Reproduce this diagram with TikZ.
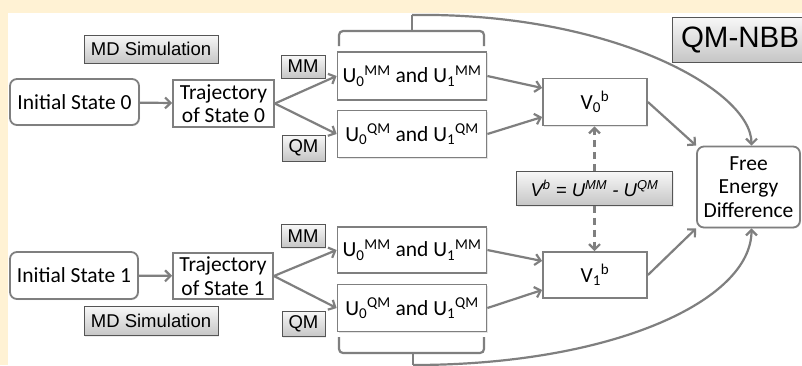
\documentclass[tikz,border=0pt]{standalone}
\usepackage{fontspec}
\setmainfont{Carlito}
\newfontfamily\labelfont{Liberation Sans}
\usetikzlibrary{arrows.meta,shadows}

\definecolor{cream}{HTML}{FFF2D4}
\definecolor{linegray}{HTML}{7F7F7F}
\definecolor{edgegray}{HTML}{555555}

\begin{document}
\begin{tikzpicture}[x=1pt, y=-1pt,
    box/.style={draw=linegray, line width=1.8pt, fill=white, inner sep=0pt, align=center,
        font=\fontsize{21.5}{23.5}\selectfont,
        drop shadow={opacity=0.2, shadow xshift=1pt, shadow yshift=-1pt}},
    roundbox/.style={box, rounded corners=7pt},
    tag/.style={draw=edgegray, line width=0.9pt, top color=gray!6, bottom color=gray!45,
        inner sep=0pt, font=\labelfont\fontsize{18.5}{21}\selectfont,
        drop shadow={opacity=0.15, shadow xshift=1pt, shadow yshift=-1pt}},
    link/.style={draw=linegray, line width=2.2pt, -{Straight Barb[length=5.5pt,width=11pt]}},
    brace/.style={draw=linegray, line width=2.2pt, rounded corners=4pt}]

    % Background and frame
    \fill[cream] (0,0) rectangle (802,365);
    \fill[white] (8,13) rectangle (802,365);
    \useasboundingbox (0,0) rectangle (802,365);

    % State 0 branch
    \node[tag, minimum width=134pt, minimum height=28pt] (md0) at (151,49) {MD Simulation};
    \node[roundbox, minimum width=129pt, minimum height=46pt] (init0) at (74.5,102) {Initial State 0};
    \node[box, minimum width=101pt, minimum height=47pt] (traj0) at (223.5,103.5) {Trajectory\\of State 0};
    \node[tag, minimum width=44pt, minimum height=23pt] (mm0) at (303,66.5) {MM};
    \node[tag, minimum width=43pt, minimum height=26pt] (qm0) at (303.5,148) {QM};
    \node[box, minimum width=149pt, minimum height=48pt] (u0) at (412,76)
        {U\textsubscript{0}\textsuperscript{MM} and U\textsubscript{1}\textsuperscript{MM}};
    \node[box, minimum width=149pt, minimum height=47pt] (q0) at (412,134)
        {U\textsubscript{0}\textsuperscript{QM} and U\textsubscript{1}\textsuperscript{QM}};
    \node[box, minimum width=104pt, minimum height=47pt] (v0) at (595,102)
        {V\textsubscript{0}\textsuperscript{b}};

    % State 1 branch
    \node[tag, minimum width=44pt, minimum height=23pt] (mm1) at (303,236) {MM};
    \node[roundbox, minimum width=128pt, minimum height=47pt] (init1) at (74,275.5) {Initial State 1};
    \node[box, minimum width=100pt, minimum height=46pt] (traj1) at (223,276) {Trajectory\\of State 1};
    \node[tag, minimum width=134pt, minimum height=29pt] (md1) at (151,321) {MD Simulation};
    \node[tag, minimum width=43pt, minimum height=25pt] (qm1) at (303.5,324) {QM};
    \node[box, minimum width=149pt, minimum height=46pt] (u1) at (412,250)
        {U\textsubscript{0}\textsuperscript{MM} and U\textsubscript{1}\textsuperscript{MM}};
    \node[box, minimum width=149pt, minimum height=47pt] (q1) at (412,308)
        {U\textsubscript{0}\textsuperscript{QM} and U\textsubscript{1}\textsuperscript{QM}};
    \node[box, minimum width=104pt, minimum height=46pt] (v1) at (595,275)
        {V\textsubscript{1}\textsuperscript{b}};

    % Common part
    \node[tag, minimum width=156pt, minimum height=34pt] (vb) at (594.5,188.5)
        {\itshape V\textsuperscript{b} = U\textsuperscript{MM} - U\textsuperscript{QM}};
    \node[roundbox, minimum width=103pt, minimum height=81pt] (fe) at (748.5,187)
        {Free\\Energy\\Difference};
    \node[tag, minimum width=136pt, minimum height=45pt, font=\labelfont\fontsize{29.5}{32}\selectfont]
        (nbb) at (740,39.5) {QM-NBB};

    % Arrows of state 0
    \draw[link] (init0) -- (traj0);
    \draw[link] (traj0.east) -- (u0.west);
    \draw[link] (traj0.east) -- (q0.west);
    \draw[link] (u0.east) -- ([yshift=14pt]v0.west);
    \draw[link] (q0.east) -- ([yshift=-15pt]v0.west);
    \draw[link] (v0.east) -- (fe.north west);

    % Arrows of state 1
    \draw[link] (init1) -- (traj1);
    \draw[link] (traj1.east) -- (u1.west);
    \draw[link] (traj1.east) -- (q1.west);
    \draw[link] (u1.east) -- ([yshift=14pt]v1.west);
    \draw[link] (q1.east) -- ([yshift=-15pt]v1.west);
    \draw[link] (v1.east) -- (fe.south west);

    % Dashed links from the formula
    \draw[link, dash pattern=on 7pt off 5pt] (vb.north) -- (vb.north |- v0.south);
    \draw[link, dash pattern=on 7pt off 5pt] (vb.south) -- (vb.south |- v1.north);

    % Braces round the energy boxes
    \coordinate (tip0) at (412,15);
    \coordinate (tip1) at (413,365);
    \draw[brace] (339,46) |- (484,31) -- (484,46);
    \draw[brace] (412,31) -- (tip0);
    \draw[brace] (339,337) |- (484,353) -- (484,337);
    \draw[brace] (413,353) -- (tip1);

    % Long curves to the free energy
    \draw[link] (tip0) .. controls +(198,-3) and +(0,-56) .. ([xshift=3pt]fe.north);
    \draw[link] (tip1) .. controls +(200,0) and +(0,72) .. ([xshift=3pt]fe.south);

\end{tikzpicture}
\end{document}
